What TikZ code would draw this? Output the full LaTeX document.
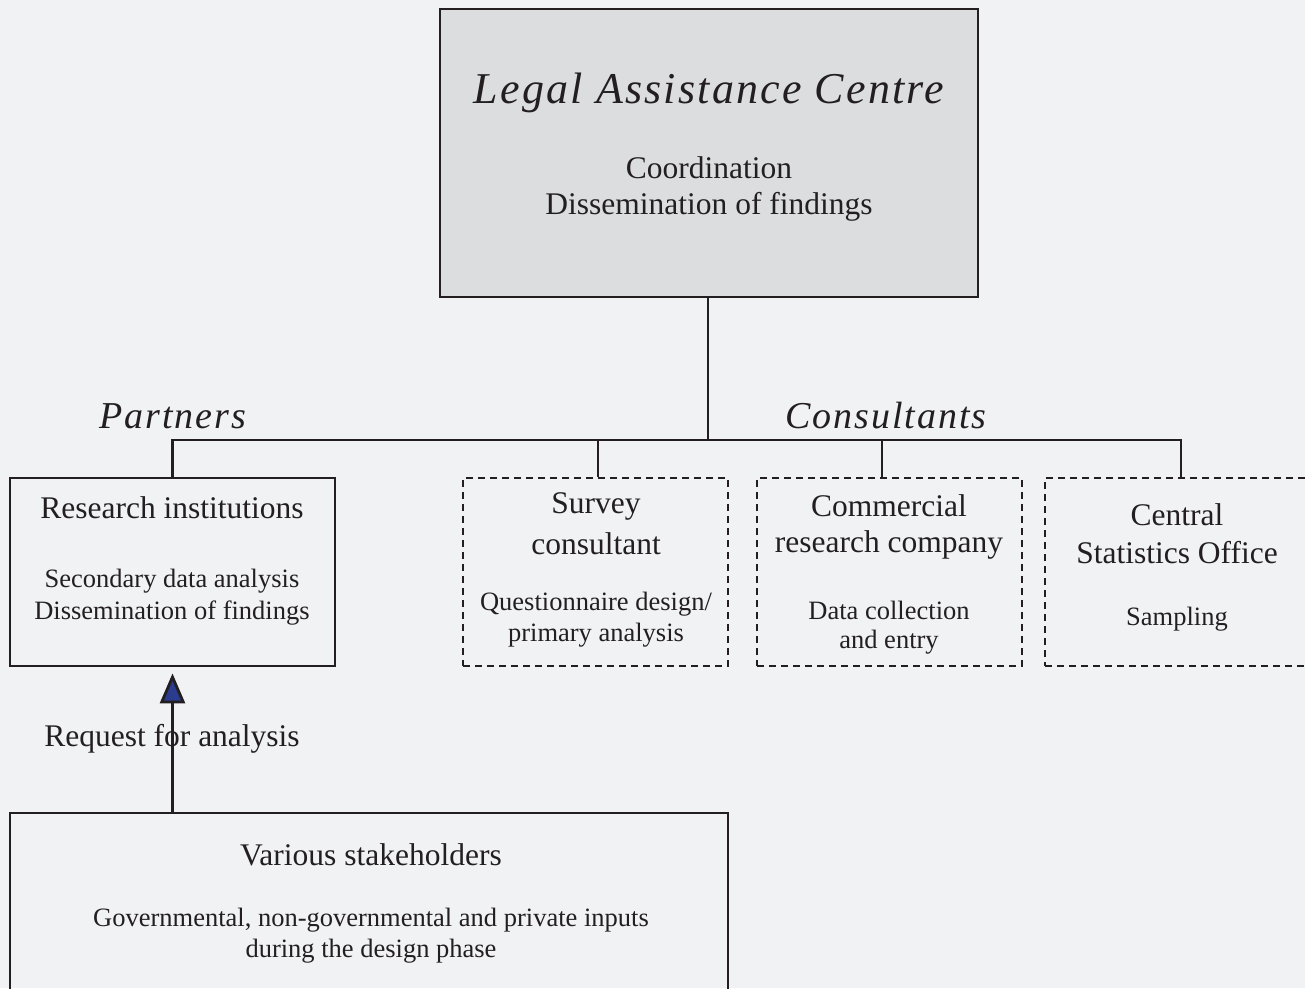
\documentclass[tikz,border=0pt]{standalone}
\usepackage{fontspec}
\setmainfont{Liberation Serif}
\newfontfamily\calfont[LetterSpace=5]{Liberation Serif}
\usetikzlibrary{arrows.meta}
\definecolor{bgc}{HTML}{F1F2F4}
\definecolor{boxgray}{HTML}{DCDDDF}
\definecolor{ink}{HTML}{231F20}
\definecolor{arrowblue}{HTML}{2B3C8F}
\tikzset{
  solidbox/.style={draw=ink, line width=2.8pt, inner sep=0pt},
  dashbox/.style={draw=ink, line width=2.2pt, dash pattern=on 7pt off 5pt, inner sep=0pt},
  conn/.style={draw=ink, line width=2.8pt},
  big/.style={font=\fontsize{31.5}{38}\selectfont, text=ink, inner sep=0pt},
  small/.style={font=\fontsize{26.5}{32}\selectfont, text=ink, inner sep=0pt},
  cal/.style={font=\calfont\itshape\fontsize{38}{44}\selectfont, text=ink, inner sep=0pt},
  caltitle/.style={font=\calfont\itshape\fontsize{44}{50}\selectfont, text=ink, inner sep=0pt},
}
\begin{document}
\begin{tikzpicture}[x=1pt,y=-1pt]
\useasboundingbox (0,0) rectangle (1305,988);
\fill[bgc] (0,0) rectangle (1305,988);
% boxes
\node[solidbox, fill=boxgray, minimum width=538pt, minimum height=288pt] (lac) at (709,153) {};
\node[solidbox, minimum width=325pt, minimum height=188pt] (ri) at (172.5,572) {};
\node[dashbox, minimum width=265pt, minimum height=188pt] (sc) at (595.5,572) {};
\node[dashbox, minimum width=265pt, minimum height=188pt] (crc) at (889.5,572) {};
\node[dashbox, minimum width=270pt, minimum height=188pt] (cso) at (1180,572) {};
\node[solidbox, minimum width=718pt, minimum height=190pt] (vs) at (369,908) {};
% texts
\node[caltitle] (t1) at (709,93) {Legal Assistance Centre};
\node[big] (t2) at (709,168) {Coordination};
\node[big] (t3) at (709,207) {Dissemination of findings};
\node[cal] (pa) at (173,416) {Partners};
\node[cal] (co) at (886,416) {Consultants};
\node[big] (r1) at (172,508) {Research institutions};
\node[small] (r2) at (172,581) {Secondary data analysis};
\node[small] (r3) at (172,613) {Dissemination of findings};
\node[big] (s1) at (596,506) {Survey};
\node[big] (s2) at (596,544) {consultant};
\node[small] (s3) at (596,604) {Questionnaire design/};
\node[small] (s4) at (596,635) {primary analysis};
\node[big] (c1) at (889,506) {Commercial};
\node[big] (c2) at (889,545) {research company};
\node[small] (c3) at (889,610) {Data collection};
\node[small] (c4) at (889,642) {and entry};
\node[big] (o1) at (1177,515) {Central};
\node[big] (o2) at (1177,553) {Statistics Office};
\node[small] (o3) at (1177,619) {Sampling};
\node[big] (v1) at (371,855) {Various stakeholders};
\node[small] (v2) at (371,920) {Governmental, non-governmental and private inputs};
\node[small] (v3) at (371,951) {during the design phase};
\node[big] (rq) at (172,739) {Request for analysis};
% connectors
\coordinate (bus) at (708,440);
\draw[conn] (lac.south -| bus) -- (bus);
\draw[conn] (ri.north) |- (bus);
\draw[conn] (bus) -| ([xshift=1pt]cso.north);
\draw[conn] ([xshift=2.5pt]sc.north) -- ([xshift=2.5pt]sc.north |- bus);
\draw[conn] ([xshift=-7.5pt]crc.north) -- ([xshift=-7.5pt]crc.north |- bus);
\draw[conn, -{Triangle[length=30pt,width=25pt,fill=arrowblue]}, shorten >=6pt] (vs.north -| ri.south) -- (ri.south);
\end{tikzpicture}
\end{document}
